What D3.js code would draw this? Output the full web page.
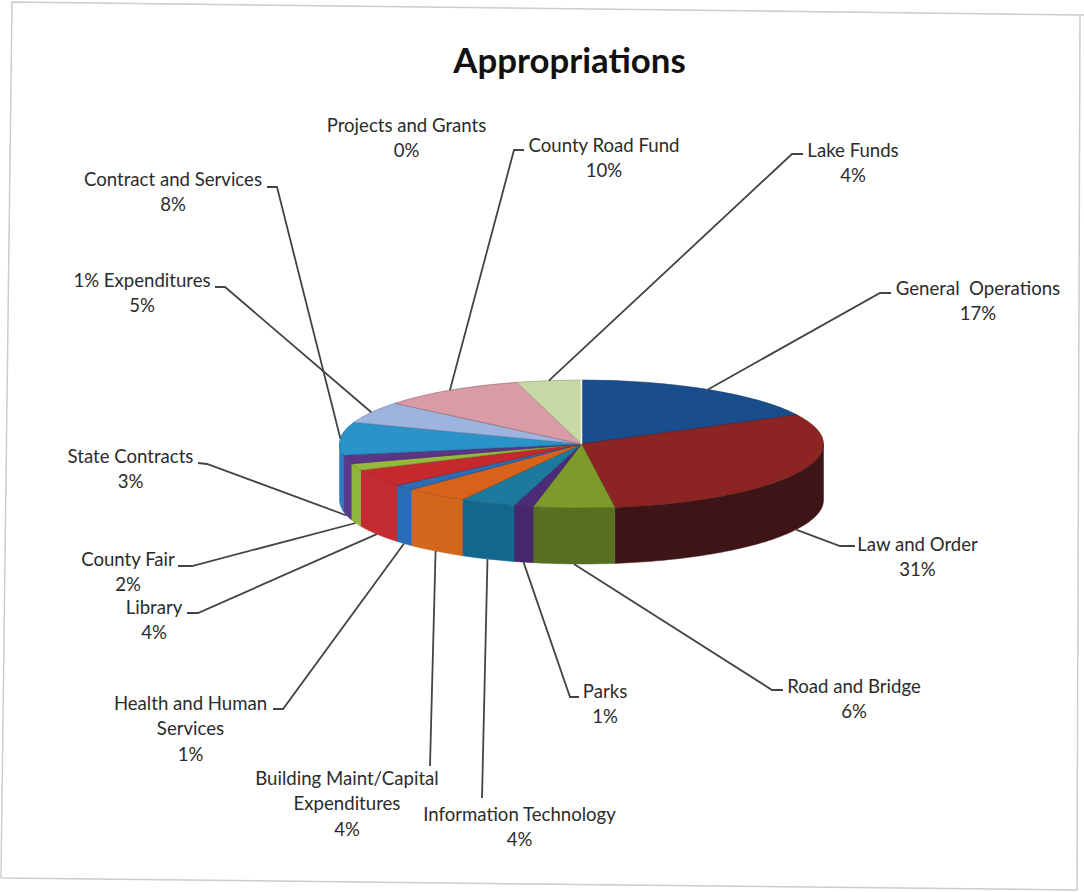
<!DOCTYPE html>
<html>
<head>
<meta charset="utf-8">
<script src="https://cdnjs.cloudflare.com/ajax/libs/d3/7.8.5/d3.min.js"></script>
<style>
  html, body { margin: 0; padding: 0; background: #fff; }
  svg { display: block; }
  text { font-family: Lato, "Open Sans", sans-serif; fill: #2b2b2b; white-space: pre; }
</style>
</head>
<body>
<div id="chart"></div>
<script>
    // order is clockwise from 12 o'clock, same as the slices in the picture
    var categories = ["General Operations", "Law and Order", "Road and Bridge", "Parks",
        "Information Technology", "Building Maint/Capital Expenditures", "Health and Human Services",
        "Library", "County Fair", "State Contracts", "Contract and Services", "1% Expenditures",
        "Projects and Grants", "County Road Fund", "Lake Funds"];

    // slice shares (the printed labels are rounded)
    var shares = [17.5, 30.3, 5.4, 1.3, 3.7, 4.2, 1.4, 4.5, 1.7, 2.2, 8.3, 5.5, 0, 9.7, 4.3];
    var printed = ["17%", "31%", "6%", "1%", "4%", "4%", "1%", "4%", "2%", "3%", "8%", "5%", "0%", "10%", "4%"];

    var topColors = ["#1a4d8c", "#8b2422", "#7d9a2a", "#4c2c78", "#1c7a9e", "#d9621a", "#2b6cb5",
        "#c5292e", "#97ba3c", "#5c3587", "#2a93c9", "#9db3e0", "#cccccc", "#d99ca6", "#c9d9a6"];
    var sideColors = ["#12365f", "#3e1517", "#566f20", "#44286b", "#14678c", "#d2661c", "#2a6cb8",
        "#c32c30", "#90b53c", "#5a3a8f", "#2a7dbe", "#8ea2cc", "#bbbbbb", "#c28c95", "#b5c495"];

    // label placement, one entry per category: text centre, first baseline, elbow
    var labelLines = [["General  Operations"], ["Law and Order"], ["Road and Bridge"], ["Parks"],
        ["Information Technology"], ["Building Maint/Capital", "Expenditures"], ["Health and Human", "Services"],
        ["Library"], ["County Fair"], ["State Contracts"], ["Contract and Services"], ["1% Expenditures"],
        ["Projects and Grants"], ["County Road Fund"], ["Lake Funds"]];
    var labelX = [978, 917.5, 854, 605, 519.5, 347, 190.5, 154, 128, 130.5, 173, 142, 406.5, 604, 853];
    var labelY = [295, 551, 693, 698, 821, 785, 710, 614, 566, 463, 186, 287, 132, 152, 157];
    var elbowA = [[891, 293], [855, 546], [783, 690], [579, 697], [482, 798], [430, 766], [273, 709],
        [187, 613], [178, 566], [198, 463], [267, 187], [215, 287], null, [524, 150], [803, 154]];
    var elbowB = [[880, 293], [840, 546], [772, 690], [570, 697], [482, 798], [430, 766], [283, 709],
        [198, 613], [192, 566], [207, 464], [277, 187], [225, 287], null, [514, 150], [792, 154]];

    var width = 1084, height = 892;
    var cx = 581.5, cy = 444, rx = 242, ry = 64, depth = 56;

    var svg = d3.select("#chart").append("svg")
        .attr("width", width)
        .attr("height", height);

    // scanned sheet edge
    svg.append("path")
        .attr("d", d3.line()([[12, 2], [1084, 15]]) + d3.line()([[12, 2], [1, 878]]) + d3.line()([[1, 878], [1077, 890]]) + d3.line()([[1080, 15], [1077, 890]]))
        .attr("fill", "none")
        .attr("stroke", "#cccccc")
        .attr("stroke-width", 1.5);

    svg.append("text")
        .attr("x", 569.5)
        .attr("y", 73)
        .attr("text-anchor", "middle")
        .style("font-size", "34.8px")
        .style("font-weight", "bold")
        .style("fill", "#111")
        .text("Appropriations");

    var pie = d3.pie().sort(null).value(function(d) { return d; });
    var slices = pie(shares);

    function px(a) { return cx + rx * Math.sin(a); }
    function py(a) { return cy - ry * Math.cos(a); }

    // side walls, only the front half of the ellipse shows
    var step = Math.PI / 180;
    var front = slices.map(function(s, i) {
        return { i: i, a0: Math.max(s.startAngle, Math.PI / 2), a1: Math.min(s.endAngle, 3 * Math.PI / 2) };
    }).filter(function(f) { return f.a1 > f.a0; });

    svg.selectAll(".wall")
        .data(front)
        .enter().append("path")
        .attr("class", "wall")
        .attr("fill", function(f) { return sideColors[f.i]; })
        .attr("stroke", function(f) { return sideColors[f.i]; })
        .attr("stroke-width", 0.5)
        .attr("d", function(f) {
            var angles = d3.range(f.a0, f.a1, step).concat([f.a1]);
            var upper = angles.map(function(a) { return [px(a), py(a)]; });
            var lower = angles.slice().reverse().map(function(a) { return [px(a), py(a) + depth]; });
            return d3.line()(upper.concat(lower)) + "Z";
        });

    // top face: unit arc squashed into the ellipse
    var arc = d3.arc().innerRadius(0).outerRadius(rx);
    svg.append("g")
        .attr("transform", "translate(" + cx + "," + cy + ") scale(1," + (ry / rx) + ")")
        .selectAll("path")
        .data(slices)
        .enter().append("path")
        .attr("d", arc)
        .attr("fill", function(d, i) { return topColors[i]; })
        .attr("stroke", function(d, i) { return d3.rgb(topColors[i]).darker(0.9); })
        .attr("stroke-width", 1);

    // white sliver where the first and last slices meet
    svg.append("path")
        .attr("d", d3.line()([[px(0), py(0) - 1], [cx, cy]]))
        .attr("stroke", "#f4f4ee")
        .attr("stroke-width", 1.5);

    // leader lines start at the middle of each slice's rim
    var leaders = categories.map(function(c, i) {
        if (!elbowA[i]) return null;
        var mid = (slices[i].startAngle + slices[i].endAngle) / 2;
        var isFront = mid > Math.PI / 2 && mid < 3 * Math.PI / 2;
        return [elbowA[i], elbowB[i], [px(mid), py(mid) + (isFront ? depth : 0)]];
    }).filter(Boolean);

    svg.selectAll(".leader")
        .data(leaders)
        .enter().append("path")
        .attr("class", "leader")
        .attr("d", d3.line())
        .attr("fill", "none")
        .attr("stroke", "#444")
        .attr("stroke-width", 1.8);

    var labels = svg.selectAll(".lbl")
        .data(categories)
        .enter().append("text")
        .attr("class", "lbl")
        .attr("text-anchor", "middle")
        .style("font-size", "18.6px");

    labels.each(function(d, i) {
        var rows = labelLines[i].concat([printed[i]]);
        d3.select(this).selectAll("tspan")
            .data(rows)
            .enter().append("tspan")
            .attr("x", labelX[i])
            .attr("y", function(r, k) { return labelY[i] + k * 25.3; })
            .text(function(r) { return r; });
    });
</script>
</body>
</html>
